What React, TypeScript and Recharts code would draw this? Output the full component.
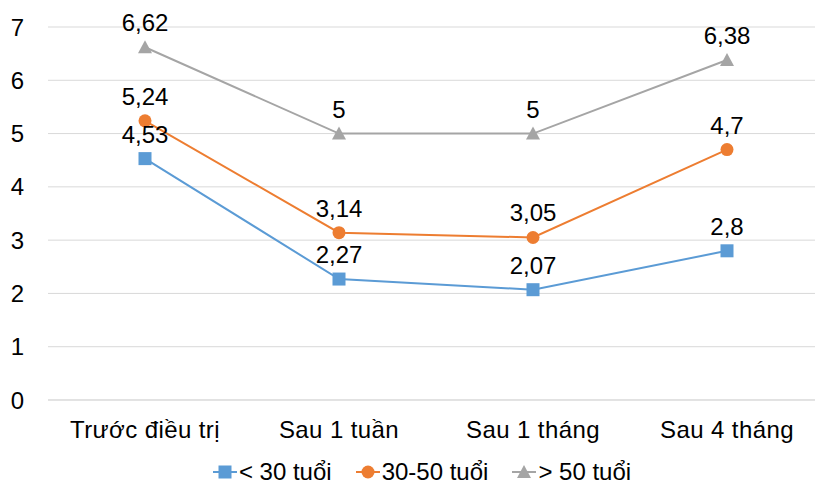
import { LineChart, Line, XAxis, YAxis, CartesianGrid, Legend, LabelList } from 'recharts';

const categories = ['Trước điều trị', 'Sau 1 tuần', 'Sau 1 tháng', 'Sau 4 tháng'];
const under30 = [4.53, 2.27, 2.07, 2.8];
const from30to50 = [5.24, 3.14, 3.05, 4.7];
const over50 = [6.62, 5, 5, 6.38];
const yTicks = [0, 1, 2, 3, 4, 5, 6, 7];

const FONT = '"Liberation Sans", Arial, sans-serif';

const SERIES = [
  { key: 'a', name: '< 30 tuổi', color: '#5B9BD5', shape: 'square' },
  { key: 'b', name: '30-50 tuổi', color: '#ED7D31', shape: 'circle' },
  { key: 'c', name: '> 50 tuổi', color: '#A5A5A5', shape: 'triangle' },
];

const data = categories.map((name, i) => ({
  name,
  a: under30[i],
  b: from30to50[i],
  c: over50[i],
}));

// draws one marker, centered on cx/cy
const Marker = ({ cx, cy, shape, color }: { cx: number; cy: number; shape: string; color: string }) => {
  if (cx == null || cy == null) return null;
  if (shape === 'square') {
    return <rect x={cx - 6.5} y={cy - 6.5} width={13} height={13} fill={color} />;
  }
  if (shape === 'circle') {
    return <circle cx={cx} cy={cy} r={6.5} fill={color} />;
  }
  return <polygon points={`${cx},${cy - 7} ${cx + 7},${cy + 6} ${cx - 7},${cy + 6}`} fill={color} />;
};

const fmt = (v: any) => String(v).replace('.', ',');

const LegendContent = () => (
  <div
    style={{
      display: 'flex',
      justifyContent: 'center',
      alignItems: 'center',
      height: 40,
      paddingTop: 12,
      paddingLeft: 20,
      boxSizing: 'border-box',
      fontFamily: FONT,
      fontSize: 24,
      color: '#000',
    }}
  >
    {SERIES.map((s) => (
      <div key={s.key} style={{ display: 'flex', alignItems: 'center', margin: '0 12px' }}>
        <svg width={24} height={16}>
          <line x1={0} y1={8} x2={24} y2={8} stroke={s.color} strokeWidth={2} />
          <Marker cx={12} cy={8} shape={s.shape} color={s.color} />
        </svg>
        <span style={{ marginLeft: 2 }}>{s.name}</span>
      </div>
    ))}
  </div>
);

export default function App() {
  return (
    <div style={{ position: 'absolute', left: 0, top: 0, width: 815, height: 486, overflow: 'hidden', background: '#fff' }}>
      <LineChart width={824} height={486} data={data} margin={{ top: 27, right: 0, bottom: 0, left: 0 }}>
        <CartesianGrid vertical={false} stroke="#D9D9D9" />
        <XAxis
          dataKey="name"
          height={46}
          padding={{ left: 97, right: 97 }}
          axisLine={{ stroke: '#D9D9D9' }}
          tickLine={false}
          tickSize={0}
          tickMargin={21}
          tick={{ fill: '#000', fontSize: 24, fontFamily: FONT, letterSpacing: 0.4 }}
          interval={0}
        />
        <YAxis
          width={48}
          domain={[0, 7]}
          ticks={yTicks}
          axisLine={false}
          tickLine={false}
          tickSize={0}
          tickMargin={24}
          tick={{ fill: '#000', fontSize: 24, fontFamily: FONT }}
        />
        <Legend verticalAlign="bottom" height={40} content={<LegendContent />} />
        {SERIES.map((s) => (
          <Line
            key={s.key}
            dataKey={s.key}
            name={s.name}
            stroke={s.color}
            strokeWidth={2}
            isAnimationActive={false}
            dot={(p: any) => <Marker key={`${s.key}-${p.index}`} cx={p.cx} cy={p.cy} shape={s.shape} color={s.color} />}
            activeDot={false}
          >
            <LabelList
              dataKey={s.key}
              position="top"
              offset={16}
              formatter={fmt}
              style={{ fill: '#000', fontSize: 24, fontFamily: FONT }}
            />
          </Line>
        ))}
      </LineChart>
    </div>
  );
}
